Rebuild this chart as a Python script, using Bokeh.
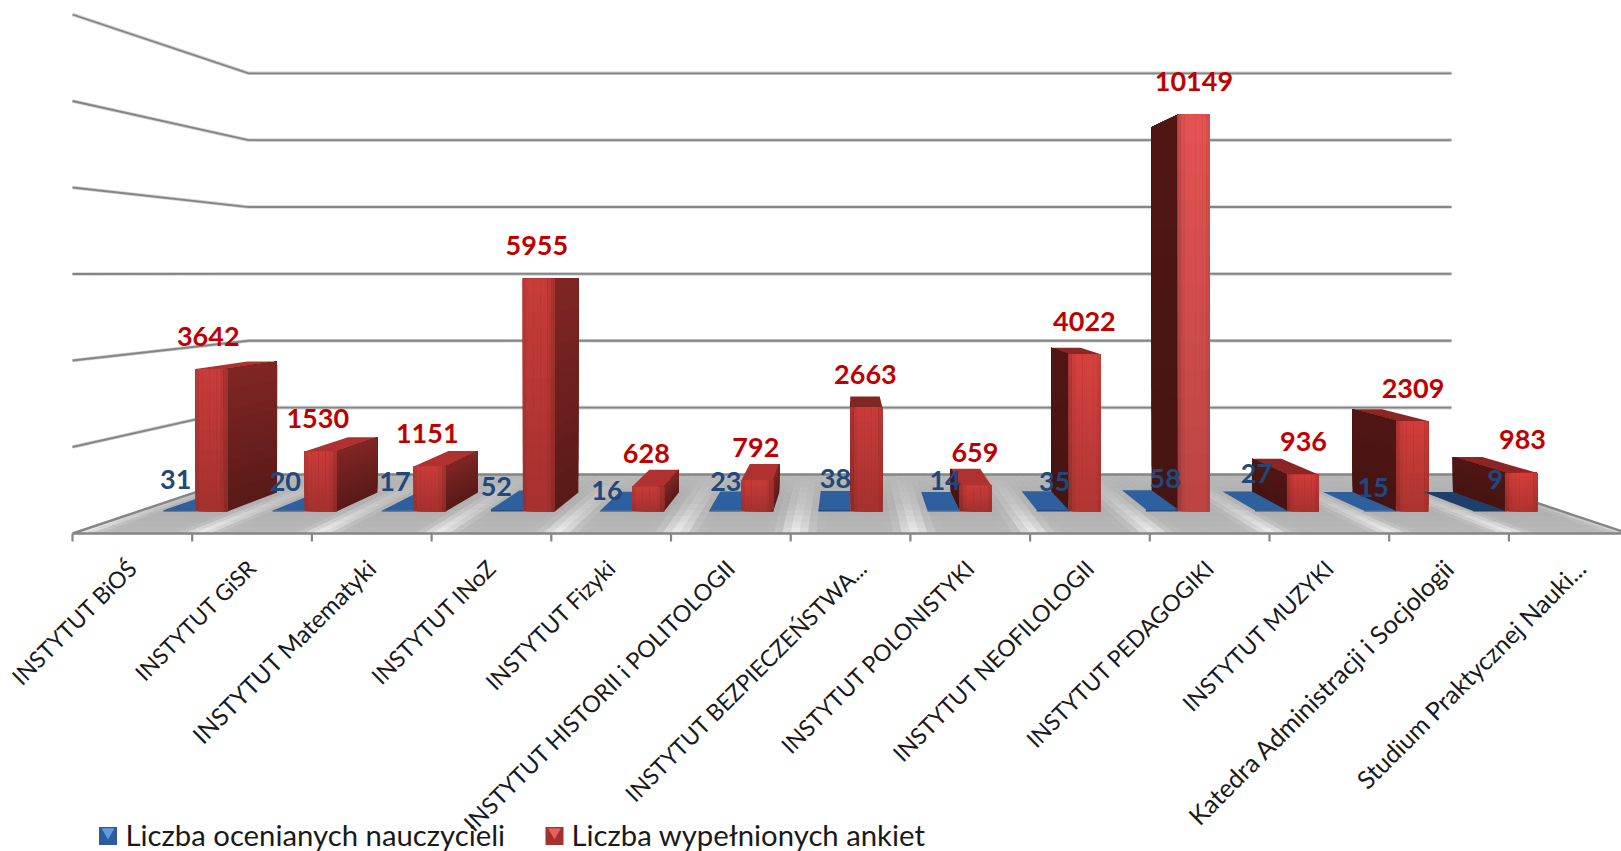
import math
from bokeh.plotting import figure
from bokeh.models import ColumnDataSource, Range1d
from bokeh.core.properties import value
from bokeh.embed import file_html
from bokeh.resources import INLINE

categories = ["INSTYTUT BiOŚ", "INSTYTUT GiSR", "INSTYTUT Matematyki", "INSTYTUT INoZ", "INSTYTUT Fizyki",
              "INSTYTUT HISTORII i POLITOLOGII", "INSTYTUT BEZPIECZEŃSTWA...", "INSTYTUT POLONISTYKI",
              "INSTYTUT NEOFILOLOGII", "INSTYTUT PEDAGOGIKI", "INSTYTUT MUZYKI",
              "Katedra Administracji i Socjologii", "Studium Praktycznej Nauki..."]
teachers = [31, 20, 17, 52, 16, 23, 38, 14, 35, 58, 27, 15, 9]
surveys = [3642, 1530, 1151, 5955, 628, 792, 2663, 659, 4022, 10149, 936, 2309, 983]
gridlines = [0, 2000, 4000, 6000, 8000, 10000, 12000]
series_names = ["Liczba ocenianych nauczycieli", "Liczba wypełnionych ankiet"]

# Styling and nudges, kept apart from the data
blue_dx = [-17.5, -17.4, -17.3, -25.5, -24.4, -15, -15, -14.8, -14.7, -13.7, -32, -24.8, -12.3]
blue_dy = [-32.4, -30.3, -30.3, -25.1, -21, -30.3, -33.4, -31.3, -30.3, -33.4, -37.5, -24.1, -32.4]
cat_sizes = ["23px", "22.5px", "24.3px", "23px", "23px", "23.3px", "23px", "23px", "23.2px", "23px", "23px", "25.3px", "25px"]
cat_dx = [0, 0, 0, 0, 0, 0, 12, 0, 0, 0, 0, 0, 12]
front_rgb = [(200, 60, 57)] * 8 + [(214, 66, 62), (228, 84, 82), (206, 60, 57), (210, 62, 58), (212, 62, 58)]
blue_top = ["#2E5F9F"] * 12 + ["#1F3F6B"]

# Perspective model
VX, HY = 848.0, 273.0          # vanishing point
X0, DX = 72.0, 119.7           # front floor edge, per category
Y0 = 533.0
K = 519.0 / 12000.0            # pixels per value unit on the front plane
K_BAR = K * 0.988              # the bars' slightly smaller scale
S_BACK = 0.773                 # back wall
S_F, S_B = 0.915, 0.842        # bar front / bar back planes
BAR = 35.0
BAR_SPREAD = 0.9966


def proj(X, v, s, k=K):
    return VX + (X - VX) * s, HY + ((Y0 - HY) - v * k) * s


def pb(X, v, s):
    return proj(X, v, s, K_BAR)


def bar_centre(i):
    return VX + (X0 + DX * (i + 0.5) - VX) * BAR_SPREAD


def mix(a, b, t):
    return tuple(a[i] + (b[i] - a[i]) * t for i in range(3))


def hexc(c):
    return "#%02X%02X%02X" % tuple(max(0, min(255, int(round(x)))) for x in c)


p = figure(width=1621, height=851, x_range=Range1d(0, 1621), y_range=Range1d(851, 0),
           output_backend="svg", toolbar_location=None, min_border=0, outline_line_color=None)
p.axis.visible = False
p.grid.visible = False
p.background_fill_color = "white"
p.border_fill_color = "white"

polys_x, polys_y, polys_c = [], [], []


def add(pts, c):
    polys_x.append([q[0] for q in pts])
    polys_y.append([q[1] for q in pts])
    polys_c.append(hexc(c))


def flush():
    global polys_x, polys_y, polys_c
    if polys_x:
        p.patches(polys_x, polys_y, fill_color=polys_c, line_color=None)
    polys_x, polys_y, polys_c = [], [], []


# Walls' grid lines, with a faint halo for their soft edge
XR = X0 + DX * 13
GRID = "#858585"
for g in gridlines:
    a = proj(X0, g, 1.0)
    b = proj(X0, g, S_BACK)
    c = proj(XR, g, S_BACK)
    if g > 0:
        xs, ys = [a[0], b[0], c[0]], [a[1], b[1], c[1]]
        p.line(xs, ys, line_color="#BDBDBD", line_width=3.6, line_alpha=0.7)
        p.line(xs, ys, line_color=GRID, line_width=1.8)

# Floor with radiating light streaks; each cell runs on to the far corner so that later
# cells paint over it and no seams appear
NU, NV = 14, 10
TOTAL = 13 * NU
for n in range(TOTAL):
    u0 = n / NU
    um = (n + 0.5) / NU
    for b in range(NV):
        d0 = b / NV
        s0 = 1 + (S_BACK - 1) * d0
        dm = (b + 0.5) / NV
        frac = um - math.floor(um)
        dist = min(abs(frac - 0.04), abs(frac - 1.04))
        streak = math.exp(-(dist / 0.12) ** 2) * max(0.0, 1 - dm * 1.05)
        g = 172 + 26 * abs(dm - 0.5) + 50 * streak
        add([proj(X0 + DX * u0, 0, s0), proj(XR, 0, s0), proj(XR, 0, S_BACK), proj(X0 + DX * u0, 0, S_BACK)],
            (g, g, g))
flush()

# Floor edges and category ticks
fl, fr, br, bl = proj(X0, 0, 1), proj(XR, 0, 1), proj(XR, 0, S_BACK), proj(X0, 0, S_BACK)
p.line([fl[0], bl[0], br[0], fr[0], fl[0]], [fl[1], bl[1], br[1], fr[1], fl[1]], line_color=GRID, line_width=2.4)
ticks = [X0 + DX * i for i in range(14)]
p.segment(ticks, [Y0] * 14, ticks, [Y0 + 8] * 14, line_color=GRID, line_width=2.2)


def bar_faces(val, left, right, fr_rgb, top_rgb, side_top, side_bot, nu=9, nv=14):
    """Draw top, visible side and front of a bar of height val."""
    add([pb(left, val, S_F), pb(right, val, S_F), pb(right, val, S_B), pb(left, val, S_B)], top_rgb)
    if right < VX:
        sx = right
    elif left > VX:
        sx = left
    else:
        sx = None
    if sx is not None:
        for b in range(nv):
            v0 = val * b / nv
            t = (b + 0.5) / nv
            add([pb(sx, v0, S_F), pb(sx, v0, S_B), pb(sx, val, S_B), pb(sx, val, S_F)],
                mix(side_bot, side_top, t))
    side_on_right = right < VX
    for a in range(nu):
        x0 = left + (right - left) * a / nu
        um = (a + 0.5) / nu
        edge = um if side_on_right else 1 - um   # 0 at the outer edge, 1 at the side edge
        shade = 1.0
        if edge > 0.78:
            shade = 1 - (edge - 0.78) * 0.9
        if edge < 0.12:
            shade = 0.94
        for b in range(nv):
            v0 = val * b / nv
            t = (b + 0.5) / nv
            base = mix(tuple(c * 0.82 for c in fr_rgb), fr_rgb, t)
            c = tuple(x * shade for x in base)
            add([pb(x0, v0, S_F), pb(right, v0, S_F), pb(right, val, S_F), pb(x0, val, S_F)], c)


def draw_blue(i):
    cx = bar_centre(i)
    v = teachers[i]
    top = tuple(int(blue_top[i][k:k + 2], 16) for k in (1, 3, 5))
    left, right = cx - BAR, cx
    add([pb(left, v, S_F), pb(right, v, S_F), pb(right, v, S_B), pb(left, v, S_B)], top)
    add([pb(left, 0, S_F), pb(right, 0, S_F), pb(right, v, S_F), pb(left, v, S_F)],
        tuple(c * 0.8 for c in top))


def draw_red(i):
    cx = bar_centre(i)
    left, right = cx, cx + BAR
    if right < VX:
        st, sb = (128, 38, 36), (88, 26, 24)
    else:
        st, sb = (80, 22, 20), (70, 20, 18)
    top = (175, 50, 48) if i < 8 else (140, 38, 36)
    if i == 6:
        top = (130, 38, 36)
    bar_faces(surveys[i], left, right, front_rgb[i], top, st, sb)


for i in range(13):
    if bar_centre(i) + BAR < VX or i == 6:
        draw_blue(i)
        draw_red(i)
    else:
        draw_red(i)
        draw_blue(i)
flush()

# Data labels
cx_proj = [proj(X0 + DX * (i + 0.5), 0, S_F)[0] for i in range(13)]
red_src = ColumnDataSource(dict(x=[cx_proj[i] + 15 for i in range(13)],
                                y=[pb(X0, surveys[i], S_F)[1] - 33 for i in range(13)],
                                t=[str(v) for v in surveys]))
p.text("x", "y", "t", source=red_src, text_color="#C00000", text_font=value("Lato"), text_font_style="bold",
       text_font_size="27px", text_align="center", text_baseline="middle")
blue_src = ColumnDataSource(dict(x=[cx_proj[i] + blue_dx[i] for i in range(13)],
                                 y=[proj(X0, 0, S_F)[1] + blue_dy[i] for i in range(13)],
                                 t=[str(v) for v in teachers]))
p.text("x", "y", "t", source=blue_src, text_color="#1F497D", text_font=value("Lato"), text_font_style="bold",
       text_font_size="27px", text_align="center", text_baseline="middle")

# Category labels
cat_src = ColumnDataSource(dict(x=[X0 + DX * (i + 0.5) + cat_dx[i] for i in range(13)], y=[563] * 13,
                                t=categories, fs=cat_sizes))
p.text("x", "y", "t", source=cat_src, text_color="#1A1A1A", text_font=value("Lato"), text_font_size="fs",
       text_align="right", text_baseline="middle", angle=45, angle_units="deg")

# Legend
lx = [107.5, 554]
p.scatter(lx, [835.5] * 2, marker="square", size=18, fill_color=["#2B5C9B", "#A5302D"], line_color=None)
p.scatter(lx, [831.5] * 2, marker="inverted_triangle", size=13, fill_color=["#5F9BE0", "#E8605C"], line_color=None)
leg_src = ColumnDataSource(dict(x=[125, 571], y=[834, 834], t=series_names))
p.text("x", "y", "t", source=leg_src, text_color="#1A1A1A", text_font=value("Lato"), text_font_size="29.3px",
       text_align="left", text_baseline="middle")

open("out.html", "w").write(file_html(p, INLINE))
